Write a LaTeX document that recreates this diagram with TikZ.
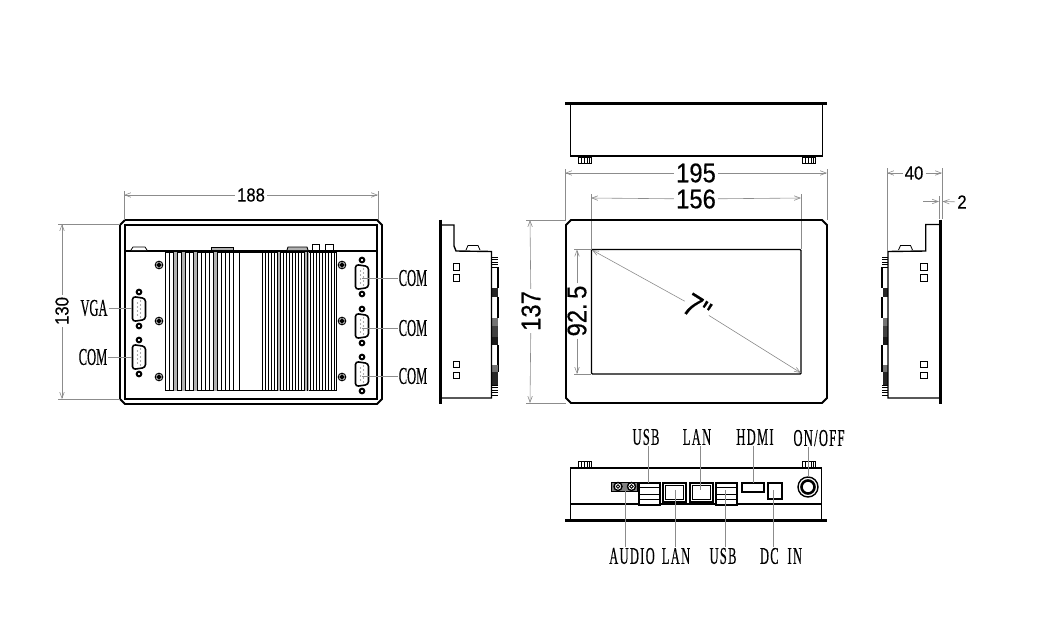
\documentclass[tikz,border=0pt]{standalone}
\usepackage{fontspec}
\usetikzlibrary{calc,arrows.meta}
\newfontfamily\portfont[FakeStretch=0.52,FakeBold=0.3]{Liberation Serif}
\newfontfamily\portwidefont[FakeStretch=0.52,FakeBold=0.3,LetterSpace=5.5]{Liberation Serif}
\newfontfamily\sizefont[FakeStretch=0.88,FakeBold=0.4]{Liberation Sans}
\tikzset{
	outline/.style={line width=1.4pt, color=black},
	thin part/.style={line width=0.8pt, color=black},
	plate/.style={line width=3pt, color=black},
	leader/.style={line width=0.6pt, color=black!45},
	dimline/.style={line width=0.6pt, color=black!45, -{Straight Barb[length=6pt,width=4.5pt]}},
	port label/.style={inner sep=1pt, font=\portfont\fontsize{24}{24}\selectfont},
	wide label/.style={inner sep=1pt, font=\portwidefont\fontsize{24}{24}\selectfont},
	small size/.style={inner sep=2pt, text=black, font=\sizefont\fontsize{19}{19}\selectfont},
	big size/.style={inner sep=2pt, text=black, font=\sizefont\fontsize{27}{27}\selectfont}
}
% one sub-d connector, seen from the front
\def\subd(#1,#2){
	\draw[line width=1.6pt, rounded corners=3pt, fill=white] (#1-6.5,#2-12.5) -- (#1+6.5,#2-10.5) -- (#1+6.5,#2+10.5) -- (#1-6.5,#2+12.5) -- cycle;
	\foreach \py in {-8,-4,0,4,8} \fill[black!65] (#1+1.5,\py+#2) circle (0.7);
	\foreach \py in {-6,-2,2,6} \fill[black!65] (#1-1.5,\py+#2) circle (0.7);
	\draw[line width=2pt, fill=white] (#1,#2-17) circle (2.3);
	\draw[line width=2pt, fill=white] (#1,#2+17) circle (2.3);
}
\def\standoff(#1,#2){
	\draw[line width=1pt] (#1,#2) circle (3.8);
	\draw[line width=1.8pt] (#1,#2) circle (1.6);
}
% the small squares and the latch of a side view
\def\sidedetail(#1,#2){
	\foreach \qy/\qh in {263/7,274/7,361/6,372/6}
		\draw[thin part] (#1,\qy) rectangle (#1+6.5,\qy+\qh);
	\draw[thin part, fill=white] (#2-7,250) -- (#2-5,245.5) -- (#2+5,245.5) -- (#2+7,250);
}
% connectors seen edge on, #2 is the side they stick out to
\def\sideports(#1,#2){
	\foreach \ny in {257,259.5,262,264.5,267,385,387.5,390,392.5,395}
		\draw[line width=0.8pt] (#1,\ny) -- (#1+6*#2,\ny);
	\foreach \by/\be in {267/288,297/318,345/372}
		\draw[line width=1.8pt] (#1+6*#2,\by) -- (#1+6*#2,\be);
	\foreach \by/\be/\bc in {288/297/85,318/326/55,326/337/75,337/345/90,365/372/55,372/385/85}
		\fill[black!\bc] (#1,\by) rectangle (#1+5.5*#2,\be);
}
\begin{document}
\begin{tikzpicture}[x=1pt,y=-1pt]
	\useasboundingbox (0,0) rectangle (1060,623);
	
	%%%%% back view %%%%%
	\draw[outline, line width=1.8pt] (125,220) -- (377,220) -- (382,225) -- (382,399) -- (377,404) -- (125,404) -- (120,399) -- (120,225) -- cycle;
	\draw[outline] (125,225) rectangle (377,399);
	\draw[outline, line width=2pt] (125,250.5) -- (377,250.5);
	\draw[thin part, fill=white] (131,250) -- (133,247) -- (145,247) -- (147,250);
	\draw[thin part, fill=black!30] (211,250) -- (211,247) -- (233,247) -- (233,250);
	\draw[thin part, fill=black!30] (287,250) -- (288,247) -- (307,247) -- (308,250);
	\draw[thin part] (312,250) rectangle (319,244.5);
	\draw[thin part] (325,250) rectangle (333,244.5);
	\draw[thin part, fill=white] (165.5,252) rectangle (336,390.5);
	\foreach \gx in {173,181,193,213,277,305}
		\fill[black!30] (\gx,252) rectangle (\gx+4,390.5);
	\foreach \fx in {169,173,...,233,239,262,265,...,334}
		\draw[line width=0.9pt] (\fx,252) -- (\fx,390.5);
	\foreach \sy in {265,321,377} {
		\standoff(159,\sy)
		\standoff(342,\sy)
	}
	\subd(139,309)
	\subd(139,357)
	\subd(362,277)
	\subd(362,326)
	\subd(362,374)
	
	\node[port label] (vga) at (94,308) {VGA};
	\node[port label] (comA) at (93,357) {COM};
	\node[port label] (comB) at (413,278) {COM};
	\node[port label] (comC) at (413,328) {COM};
	\node[port label] (comD) at (413,376) {COM};
	\coordinate (vgaEnd) at (132,308);
	\coordinate (comAEnd) at (132,357);
	\coordinate (comBEnd) at (362,278);
	\coordinate (comCEnd) at (362,328);
	\coordinate (comDEnd) at (362,376);
	\draw[leader] (vga) -- (vgaEnd);
	\draw[leader] (comA) -- (comAEnd);
	\draw[leader] (comB) -- (comBEnd);
	\draw[leader] (comC) -- (comCEnd);
	\draw[leader] (comD) -- (comDEnd);
	
	\node[small size] (wBack) at (251,195) {188};
	\coordinate (wBackL) at (124,195);
	\coordinate (wBackR) at (378,195);
	\draw[dimline] (wBack) -- (wBackL);
	\draw[dimline] (wBack) -- (wBackR);
	\draw[leader] (124,191) -- (124,220);
	\draw[leader] (378,191) -- (378,220);
	\node[small size, rotate=90] (hBack) at (62,311) {130};
	\coordinate (hBackT) at (62,224);
	\coordinate (hBackB) at (62,399);
	\draw[dimline] (hBack) -- (hBackT);
	\draw[dimline] (hBack) -- (hBackB);
	\draw[leader] (58,224) -- (120,224);
	\draw[leader] (58,399) -- (120,399);
	
	%%%%% left side view %%%%%
	\sideports(492,1)
	\draw[outline, fill=white] (441,225) -- (454,225) -- (454,246) -- (456,251) -- (491.5,251.5) -- (491.5,398) -- (441,398);
	\draw[plate] (440,219.5) -- (440,403.5);
	\sidedetail(453,473)
	
	%%%%% top view %%%%%
	\draw[outline, fill=white] (570.5,104) -- (570.5,156) -- (822.5,156) -- (822.5,104);
	\draw[plate] (565,103.5) -- (827,103.5);
	\foreach \tx in {578,802} {
		\draw[thin part] (\tx,157) rectangle (\tx+13.5,163);
		\foreach \gx in {3,6,9,11}
			\draw[thin part] (\tx+\gx,157) -- (\tx+\gx,163);
	}
	
	\node[big size] (wFront) at (696,173) {195};
	\coordinate (wFrontL) at (565,173);
	\coordinate (wFrontR) at (827,173);
	\draw[dimline] (wFront) -- (wFrontL);
	\draw[dimline] (wFront) -- (wFrontR);
	\draw[leader] (565,169) -- (565,220);
	\draw[leader] (827,169) -- (827,220);
	\node[big size] (wGlass) at (696,199) {156};
	\coordinate (wGlassL) at (591,198);
	\coordinate (wGlassR) at (801,198);
	\draw[dimline] (wGlass) -- (wGlassL);
	\draw[dimline] (wGlass) -- (wGlassR);
	\draw[leader] (591,194) -- (591,249);
	\draw[leader] (801,194) -- (801,249);
	
	%%%%% front view %%%%%
	\draw[outline, line width=1.8pt] (571,220) -- (822,220) -- (827,225) -- (827,398) -- (822,403) -- (571,403) -- (566,398) -- (566,225) -- cycle;
	\draw[outline, rounded corners=1pt] (591.5,249.5) rectangle (801,374);
	
	\node[big size, rotate=90] (hFront) at (531,311) {137};
	\coordinate (hFrontT) at (530,220);
	\coordinate (hFrontB) at (530,403);
	\draw[dimline] (hFront) -- (hFrontT);
	\draw[dimline] (hFront) -- (hFrontB);
	\draw[leader] (526,220) -- (566,220);
	\draw[leader] (526,403) -- (566,403);
	\node[big size, rotate=90] (hGlass) at (577,311) {92.\,5};
	\coordinate (hGlassT) at (577,249.5);
	\coordinate (hGlassB) at (577,374);
	\draw[dimline] (hGlass) -- (hGlassT);
	\draw[dimline] (hGlass) -- (hGlassB);
	\draw[leader] (574,249.5) -- (591,249.5);
	\draw[leader] (574,374) -- (591,374);
	\node[big size, rotate=-32, inner sep=1pt] (diag) at (697,308) {\fontsize{32}{32}\selectfont 7"};
	\coordinate (diagA) at (592,250);
	\coordinate (diagB) at (801,373);
	\draw[dimline] (diag) -- (diagA);
	\draw[dimline] (diag) -- (diagB);
	
	%%%%% right side view %%%%%
	\sideports(888,-1)
	\draw[outline, fill=white] (939,224.5) -- (925.7,224.5) -- (925.7,251) -- (888,251.5) -- (888,398) -- (939,398);
	\draw[plate] (940.5,219.5) -- (940.5,403.5);
	\sidedetail(920.7,905.5)
	
	\node[small size] (depth) at (914,173) {40};
	\coordinate (depthL) at (887,173);
	\coordinate (depthR) at (942,173);
	\draw[dimline] (depth) -- (depthL);
	\draw[dimline] (depth) -- (depthR);
	\draw[leader] (887,168) -- (887,251);
	\draw[leader] (942.5,168) -- (942.5,219);
	\draw[leader] (939,196) -- (939,219);
	\node[small size] (bezel) at (962,202) {2};
	\coordinate (bezelL) at (939,201.5);
	\coordinate (bezelFar) at (923,201.5);
	\coordinate (bezelR) at (942.5,201.5);
	\draw[dimline] (bezelFar) -- (bezelL);
	\draw[dimline] (bezel) -- (bezelR);
	
	%%%%% bottom view %%%%%
	\foreach \tx in {578,802} {
		\draw[thin part] (\tx,461) rectangle (\tx+13.5,467);
		\foreach \gx in {3,6,9,11}
			\draw[thin part] (\tx+\gx,461) -- (\tx+\gx,467);
	}
	\draw[outline] (570.5,519) -- (570.5,468) -- (821.5,468) -- (821.5,519);
	\draw[outline, line width=2pt] (570.5,504) -- (821.5,504);
	\draw[plate] (565,520) -- (827,520);
	
	\draw[thin part, fill=black!50] (611,482) rectangle (637,491);
	\foreach \ax in {618,631.5} {
		\draw[line width=1.4pt, fill=white] (\ax,486.5) circle (4);
		\draw[thin part] (\ax,486.5) circle (1.8);
	}
	\foreach \ux in {639,716} {
		\draw[outline, fill=white] (\ux,483) rectangle (\ux+21,505);
		\foreach \uy in {487.5,494,499.5}
			\draw[thin part] (\ux,\uy) -- (\ux+21,\uy);
	}
	\foreach \lx in {663,690} {
		\draw[outline, fill=white] (\lx,483) rectangle (\lx+23,502);
		\draw[outline] (\lx+2.5,485.5) rectangle (\lx+20.5,499.5);
	}
	\draw[outline, fill=white] (742,483) rectangle (764,492);
	\draw[outline, fill=white] (768,483) rectangle (782,499);
	\draw[outline] (808,487) circle (10);
	\draw[line width=2.6pt] (808,487) circle (6.5);
	
	\node[wide label] (usbTop) at (646,437) {USB};
	\node[wide label] (lanTop) at (697,437) {LAN};
	\node[wide label] (hdmi) at (755,437) {HDMI};
	\node[wide label] (onoff) at (819,438) {ON/OFF};
	\node[wide label] (audio) at (632,556) {AUDIO};
	\node[wide label] (lanLow) at (676,556) {LAN};
	\node[wide label] (usbLow) at (723,556) {USB};
	\node[wide label] (dcin) at (781,556) {DC\ \ IN};
	\coordinate (usbTopEnd) at (648,483);
	\coordinate (lanTopEnd) at (700,490);
	\coordinate (hdmiEnd) at (753,483);
	\coordinate (onoffEnd) at (808,477);
	\coordinate (audioEnd) at (625,491);
	\coordinate (lanLowEnd) at (675,490);
	\coordinate (usbLowEnd) at (725,490);
	\coordinate (dcinEnd) at (773.5,490);
	\draw[leader] (usbTopEnd |- usbTop.south) -- (usbTopEnd);
	\draw[leader] (lanTopEnd |- lanTop.south) -- (lanTopEnd);
	\draw[leader] (hdmiEnd |- hdmi.south) -- (hdmiEnd);
	\draw[leader] (onoffEnd |- onoff.south) -- (onoffEnd);
	\draw[leader] (audioEnd |- audio.north) -- (audioEnd);
	\draw[leader] (lanLowEnd |- lanLow.north) -- (lanLowEnd);
	\draw[leader] (usbLowEnd |- usbLow.north) -- (usbLowEnd);
	\draw[leader] (dcinEnd |- dcin.north) -- (dcinEnd);
\end{tikzpicture}
\end{document}
